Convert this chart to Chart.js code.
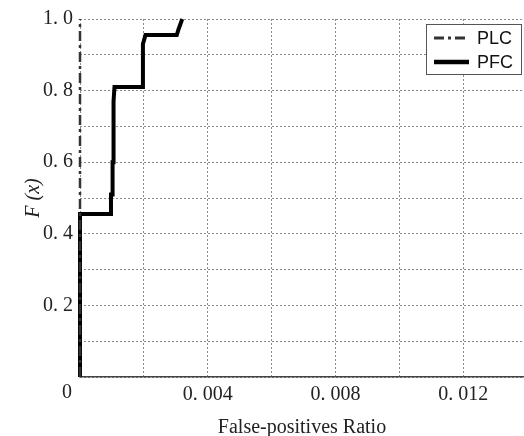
<!DOCTYPE html>
<html>
<head>
<meta charset="utf-8">
<script src="https://cdn.jsdelivr.net/npm/chart.js@4"></script>
<style>
  html, body { margin: 0; padding: 0; background: #fff; }
  #wrap { width: 524px; height: 436px; }
</style>
</head>
<body>
<div id="wrap"><canvas id="myChart"></canvas></div>
<script>
// PLC sits on the y axis, PFC is the stepped curve
const plcX = [0, 0];
const plcY = [0, 1.0];
const pfcX = [0, 0, 0.00097, 0.00097, 0.00102, 0.00102, 0.00105, 0.00105, 0.00108, 0.00197, 0.00197, 0.00205, 0.00303, 0.00308, 0.0032];
const pfcY = [0, 0.455, 0.455, 0.51, 0.51, 0.60, 0.60, 0.77, 0.81, 0.81, 0.93, 0.955, 0.955, 0.97, 1.0];

// grid positions and the labels shown on them
const xGrid = [0, 0.002, 0.004, 0.006, 0.008, 0.010, 0.012];
const xLabelValues = [0.004, 0.008, 0.012];
const xLabelText = ['0. 004', '0. 008', '0. 012'];
const yGrid = [0, 0.1, 0.2, 0.3, 0.4, 0.5, 0.6, 0.7, 0.8, 0.9, 1.0];
const yLabelValues = [0.2, 0.4, 0.6, 0.8, 1.0];
const yLabelText = ['0. 2', '0. 4', '0. 6', '0. 8', '1. 0'];
const originLabel = '0';

const serif = '"Liberation Serif", "DejaVu Serif", serif';

const toPoints = (xs, ys) => xs.map((x, i) => ({x: x, y: ys[i]}));

const pickLabel = (values, texts, v) => {
  for (let i = 0; i < values.length; i++) {
    if (Math.abs(values[i] - v) < 1e-9) return texts[i];
  }
  return '';
};

const boxLegend = {
  id: 'boxLegend',
  afterDraw(chart) {
    const ctx = chart.ctx;
    const area = chart.chartArea;
    ctx.save();
    // origin "0" shared by both axes
    ctx.font = '20px ' + serif;
    ctx.fillStyle = '#222';
    ctx.textAlign = 'center';
    ctx.textBaseline = 'middle';
    ctx.fillText(originLabel, area.left - 13, area.bottom + 16);

    // legend box in the upper right corner
    const bx = area.right - 98, by = area.top + 5, bw = 95, bh = 50;
    ctx.fillStyle = '#fff';
    ctx.fillRect(bx, by, bw, bh);
    ctx.strokeStyle = '#555';
    ctx.lineWidth = 1;
    ctx.strokeRect(bx + 0.5, by + 0.5, bw, bh);
    chart.data.datasets.forEach((ds, i) => {
      const ly = by + 14 + i * 24;
      ctx.strokeStyle = ds.borderColor;
      ctx.lineWidth = ds.borderWidth + 0.5;
      ctx.setLineDash(ds.borderDash || []);
      ctx.beginPath();
      ctx.moveTo(bx + 8, ly);
      ctx.lineTo(bx + 43, ly);
      ctx.stroke();
      ctx.setLineDash([]);
      ctx.fillStyle = '#111';
      ctx.font = '18px "Liberation Sans", Arial, sans-serif';
      ctx.textAlign = 'left';
      ctx.fillText(ds.label, bx + 51, ly + 1);
    });
    ctx.restore();
  }
};

const ctx = document.getElementById('myChart');

new Chart(ctx, {
  type: 'scatter',
  data: {
    datasets: [
      {
        label: 'PLC',
        data: toPoints(plcX, plcY),
        showLine: true,
        borderColor: '#333',
        borderWidth: 2.5,
        borderDash: [10, 4, 3, 4],
        pointRadius: 0,
        clip: false
      },
      {
        label: 'PFC',
        data: toPoints(pfcX, pfcY),
        showLine: true,
        borderColor: '#000',
        borderWidth: 4,
        pointRadius: 0,
        clip: false
      }
    ]
  },
  options: {
    responsive: true,
    maintainAspectRatio: false,
    animation: false,
    layout: { padding: { top: 18, right: 0, left: 0, bottom: 0 } },
    plugins: {
      legend: { display: false },
      tooltip: { enabled: false }
    },
    scales: {
      x: {
        type: 'linear',
        min: 0,
        max: 0.0139,
        afterBuildTicks: (scale) => { scale.ticks = xGrid.map(v => ({value: v})); },
        afterFit: (scale) => { scale.height = 59; },
        ticks: {
          autoSkip: false,
          maxRotation: 0,
          padding: 6,
          color: '#222',
          font: { family: serif, size: 20 },
          callback: (v) => pickLabel(xLabelValues, xLabelText, v)
        },
        grid: { color: '#8a8a8a', lineWidth: 1, drawTicks: false },
        border: { display: true, color: '#444', width: 1.5, dash: [2, 2] },
        title: {
          display: true,
          text: 'False-positives Ratio',
          color: '#222',
          font: { family: serif, size: 20 },
          padding: { top: 6, bottom: -4 }
        }
      },
      y: {
        min: 0,
        max: 1,
        afterBuildTicks: (scale) => { scale.ticks = yGrid.map(v => ({value: v})); },
        afterFit: (scale) => { scale.width = 80; },
        ticks: {
          autoSkip: false,
          padding: 7,
          color: '#222',
          font: { family: serif, size: 20 },
          callback: (v) => pickLabel(yLabelValues, yLabelText, v)
        },
        grid: { color: '#8a8a8a', lineWidth: 1, drawTicks: false },
        border: { display: false, dash: [2, 2] },
        title: {
          display: true,
          text: 'F (x)',
          color: '#222',
          font: { family: serif, size: 20, style: 'italic' },
          padding: { top: 22, bottom: 0 }
        }
      }
    }
  },
  plugins: [boxLegend]
});
</script>
</body>
</html>
